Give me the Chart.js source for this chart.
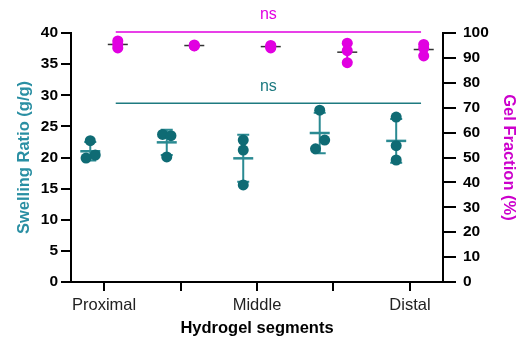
<!DOCTYPE html>
<html>
<head>
<meta charset="utf-8">
<script src="https://cdn.jsdelivr.net/npm/chart.js@4/dist/chart.umd.min.js"></script>
<style>
  html, body { margin: 0; padding: 0; background: #fff; }
  canvas { display: block; }
</style>
</head>
<body>
<canvas id="myChart" width="524" height="345"></canvas>
<script>
// Categories (ticks at 0..4, only three labelled)
let segments = ['Proximal', '', 'Middle', '', 'Distal'];

// Swelling ratio (g/g), three replicates per segment
let swelling = [
    [22.7, 20.4, 19.9],
    [23.7, 23.5, 20.1],
    [22.8, 21.2, 15.6],
    [27.6, 22.8, 21.4],
    [26.5, 21.9, 19.6]
];
// Gel fraction (%), three replicates per segment
let gelFraction = [
    [96.8, 95.4, 94.0],
    [95.2, 94.9, 94.8],
    [95.0, 94.6, 94.0],
    [95.9, 92.9, 88.1],
    [95.4, 93.9, 90.8]
];

let teal = '#0f6b74';
let tealLight = '#2a8a92';
let magenta = '#e100e1';
let font = "Arial, 'Liberation Sans', Helvetica, sans-serif";

// small horizontal scatter of the replicate dots
let swellJitter = [[0, 0.065, -0.055], [-0.055, 0.055, 0], [0, 0, 0], [0, 0.065, -0.055], [0, 0, 0]];
let tealShift = -0.18, magShift = 0.18;

function mean(a) { return a.reduce((s, v) => s + v, 0) / a.length; }
function sd(a) {
    let m = mean(a);
    return Math.sqrt(a.reduce((s, v) => s + (v - m) * (v - m), 0) / (a.length - 1));
}

let tealPoints = [];
swelling.forEach((g, i) => g.forEach((v, j) => tealPoints.push({ x: i + tealShift + swellJitter[i][j], y: v })));
let magPoints = [];
gelFraction.forEach((g, i) => g.forEach(v => magPoints.push({ x: i + magShift, y: v })));

// mean +/- SD bars and the "ns" brackets, drawn through the scales
let errorBars = {
    id: 'errorBars',
    beforeDatasetsDraw(chart) {
        let ctx = chart.ctx, xs = chart.scales.x;
        function drawGroup(groups, shift, yScale, color, lw, half, cap, meanColor) {
            groups.forEach((g, i) => {
                let m = mean(g), s = sd(g);
                let cx = xs.getPixelForValue(i + shift);
                let ym = yScale.getPixelForValue(m);
                let yt = yScale.getPixelForValue(m + s);
                let yb = yScale.getPixelForValue(m - s);
                ctx.save();
                ctx.strokeStyle = color;
                ctx.lineWidth = 2;
                ctx.beginPath();
                ctx.moveTo(cx, yt); ctx.lineTo(cx, yb);
                ctx.moveTo(cx - cap, yt); ctx.lineTo(cx + cap, yt);
                ctx.moveTo(cx - cap, yb); ctx.lineTo(cx + cap, yb);
                ctx.stroke();
                ctx.strokeStyle = meanColor;
                ctx.lineWidth = lw;
                ctx.beginPath();
                ctx.moveTo(cx - half, ym); ctx.lineTo(cx + half, ym);
                ctx.stroke();
                ctx.restore();
            });
        }
        drawGroup(swelling, tealShift, chart.scales.y, tealLight, 2.5, 10, 6, tealLight);
        drawGroup(gelFraction, magShift, chart.scales.y2, magenta, 1.5, 10, 5, '#333');
    },
    afterDraw(chart) {
        let ctx = chart.ctx, xs = chart.scales.x;
        let x1 = xs.getPixelForValue(0.153), x2 = xs.getPixelForValue(4.145);
        function bracket(y, color) {
            ctx.save();
            ctx.strokeStyle = color;
            ctx.lineWidth = 1.5;
            ctx.beginPath();
            ctx.moveTo(x1, y); ctx.lineTo(x2, y);
            ctx.stroke();
            ctx.fillStyle = color;
            ctx.font = '16px ' + font;
            ctx.textAlign = 'center';
            ctx.textBaseline = 'middle';
            ctx.fillText('ns', (x1 + x2) / 2, y - 17);
            ctx.restore();
        }
        bracket(chart.scales.y2.getPixelForValue(100.4), magenta);
        bracket(chart.scales.y.getPixelForValue(28.7), '#1e7a80');
    }
};

let myChart = new Chart(document.getElementById('myChart').getContext('2d'), {
    type: 'scatter',
    data: {
        datasets: [
            {
                label: 'Swelling Ratio',
                data: tealPoints,
                yAxisID: 'y',
                backgroundColor: teal,
                borderWidth: 0,
                pointRadius: 5.5
            },
            {
                label: 'Gel Fraction',
                data: magPoints,
                yAxisID: 'y2',
                backgroundColor: magenta,
                borderWidth: 0,
                pointRadius: 5.5
            }
        ]
    },
    options: {
        responsive: false,
        animation: false,
        layout: { padding: { top: 33, left: 0, right: 0, bottom: 0 } },
        plugins: { legend: { display: false }, tooltip: { enabled: false } },
        scales: {
            x: {
                type: 'linear',
                min: -0.432,
                max: 4.432,
                afterBuildTicks: s => { s.ticks = segments.map((_, i) => ({ value: i })); },
                afterFit: s => { s.height = 63; },
                ticks: {
                    callback: v => segments[v] || '',
                    font: { family: font, size: 16.5 },
                    color: '#222',
                    padding: 5,
                    maxRotation: 0,
                    autoSkip: false
                },
                grid: { drawOnChartArea: false, drawTicks: true, tickLength: 9, color: '#000', lineWidth: 2 },
                border: { color: '#000', width: 2 },
                title: {
                    display: true,
                    text: 'Hydrogel segments',
                    color: '#000',
                    font: { family: font, size: 16.5, weight: 'bold' },
                    padding: { top: 7, bottom: 7 }
                }
            },
            y: {
                position: 'left',
                min: 0,
                max: 40,
                afterFit: s => { s.width = 71; },
                ticks: { stepSize: 5, color: '#000', font: { family: font, size: 15.5, weight: 'bold' }, padding: 3 },
                grid: { drawOnChartArea: false, drawTicks: true, tickLength: 10, color: '#000', lineWidth: 2 },
                border: { color: '#000', width: 2 },
                title: {
                    display: true,
                    text: 'Swelling Ratio (g/g)',
                    color: '#2a8fa3',
                    font: { family: font, size: 16.5, weight: 'bold' },
                    padding: { top: 15, bottom: 0 }
                }
            },
            y2: {
                position: 'right',
                min: 0,
                max: 100,
                afterFit: s => { s.width = 81; },
                ticks: { stepSize: 10, color: '#000', font: { family: font, size: 15.5, weight: 'bold' }, padding: 7 },
                grid: { drawOnChartArea: false, drawTicks: true, tickLength: 13, color: '#000', lineWidth: 2 },
                border: { color: '#000', width: 2 },
                title: {
                    display: true,
                    text: 'Gel Fraction (%)',
                    color: '#cc00cc',
                    font: { family: font, size: 16.5, weight: 'bold' },
                    padding: { top: 6, bottom: 0 }
                }
            }
        }
    },
    plugins: [errorBars]
});
</script>
</body>
</html>
